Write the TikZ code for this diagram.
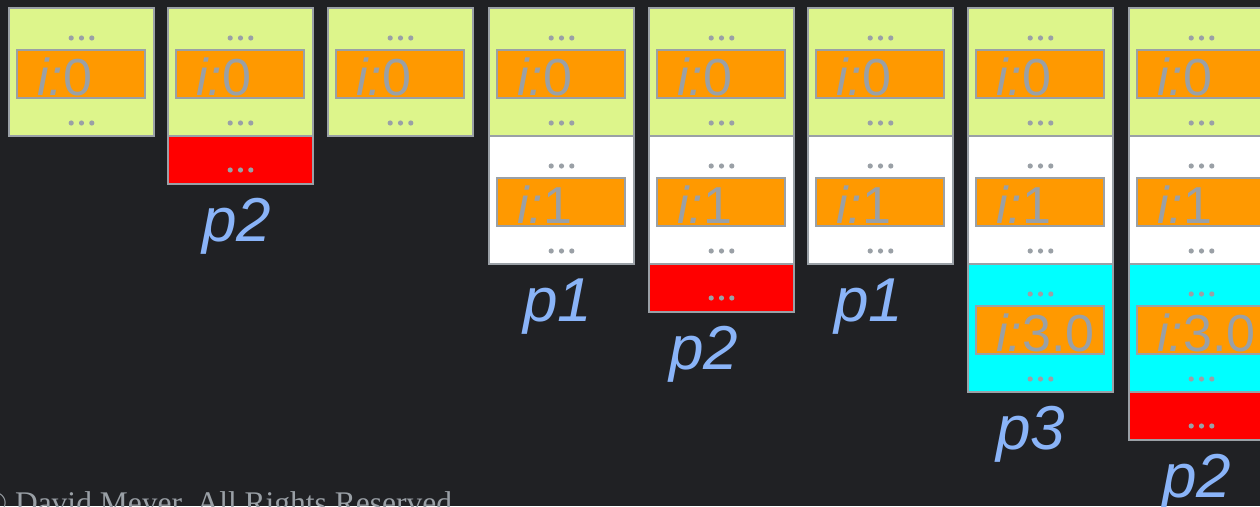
\documentclass[tikz,border=0pt]{standalone}
\usepackage{fontspec}
\setmainfont{Liberation Serif}
\newfontfamily\uifont{Liberation Sans}
\definecolor{bgdark}{HTML}{202124}
\definecolor{edge}{HTML}{9AA0A6}
\definecolor{lime}{HTML}{DDF58B}
\definecolor{valorange}{HTML}{FF9900}
\definecolor{gapred}{HTML}{FF0000}
\definecolor{aqua}{HTML}{00FFFF}
\definecolor{labelblue}{HTML}{8AB4F8}
\tikzset{
  cell/.style={draw=edge, line width=1.5pt, inner sep=0pt, outer sep=0pt,
    minimum width=145pt, minimum height=128pt, anchor=north west},
  gapcell/.style={cell, fill=gapred, minimum height=48pt},
  valbox/.style={draw=edge, line width=1.5pt, fill=valorange, inner sep=0pt,
    outer sep=0pt, minimum width=128pt, minimum height=48pt, anchor=north west},
  valtext/.style={text=edge, inner sep=0pt, anchor=base west,
    font=\uifont\fontsize{52}{52}\selectfont},
  plabel/.style={text=labelblue, inner sep=0pt, anchor=base,
    font=\uifont\itshape\fontsize{62}{62}\selectfont},
  ellip/.pic={\foreach \d in {-10.3,0,10.3}
    \fill[edge] (\d pt,0pt) circle[radius=2.6pt];}
}
% a frame cell holding one value box, with elided entries above and below
\newcommand\valcell[4]{%
  \node[cell, fill=#3] (#1) at (#2) {};
  \node[valbox] (#1v) at ([xshift=8pt,yshift=-42pt]#1.north west) {};
  \node[valtext] (#1t) at ([xshift=20pt,yshift=3pt]#1v.south west) {\textit{i:}#4};
  \pic at ([yshift=-30pt]#1.north) {ellip};
  \pic at ([yshift=-115pt]#1.north) {ellip};
}
% a red gap cell stacked under another cell
\newcommand\gapblock[2]{%
  \node[gapcell] (#1) at (#2) {};
  \pic at ([yshift=-34pt]#1.north) {ellip};
}
\begin{document}
\begin{tikzpicture}[x=1pt,y=-1pt]
\fill[bgdark] (0,0) rectangle (1260,506);
\useasboundingbox (0,0) rectangle (1260,506);

% column 1
\valcell{a1}{9,8}{lime}{0}
% column 2
\valcell{b1}{168,8}{lime}{0}
\gapblock{b2}{b1.south west}
\node[plabel] (bl) at ([xshift=-4pt,yshift=-57pt]b2.south) {p2};
% column 3
\valcell{c1}{328,8}{lime}{0}
% column 4
\valcell{d1}{489,8}{lime}{0}
\valcell{d2}{d1.south west}{white}{1}
\node[plabel] (dl) at ([xshift=-4pt,yshift=-57pt]d2.south) {p1};
% column 5
\valcell{e1}{649,8}{lime}{0}
\valcell{e2}{e1.south west}{white}{1}
\gapblock{e3}{e2.south west}
\node[plabel] (el) at ([xshift=-18pt,yshift=-57pt]e3.south) {p2};
% column 6
\valcell{f1}{808,8}{lime}{0}
\valcell{f2}{f1.south west}{white}{1}
\node[plabel] (fl) at ([xshift=-12pt,yshift=-57pt]f2.south) {p1};
% column 7
\valcell{g1}{968,8}{lime}{0}
\valcell{g2}{g1.south west}{white}{1}
\valcell{g3}{g2.south west}{aqua}{3.0}
\node[plabel] (gl) at ([xshift=-10pt,yshift=-57pt]g3.south) {p3};
% column 8
\valcell{h1}{1129,8}{lime}{0}
\valcell{h2}{h1.south west}{white}{1}
\valcell{h3}{h2.south west}{aqua}{3.0}
\gapblock{h4}{h3.south west}
\node[plabel] (hl) at ([xshift=-5pt,yshift=-57pt]h4.south) {p2};

% copyright line
\node[text=edge, inner sep=0pt, anchor=base west,
  font=\fontsize{31.5}{31.5}\selectfont] (copy) at (-17,513)
  {© David Meyer, All Rights Reserved};
\end{tikzpicture}
\end{document}
